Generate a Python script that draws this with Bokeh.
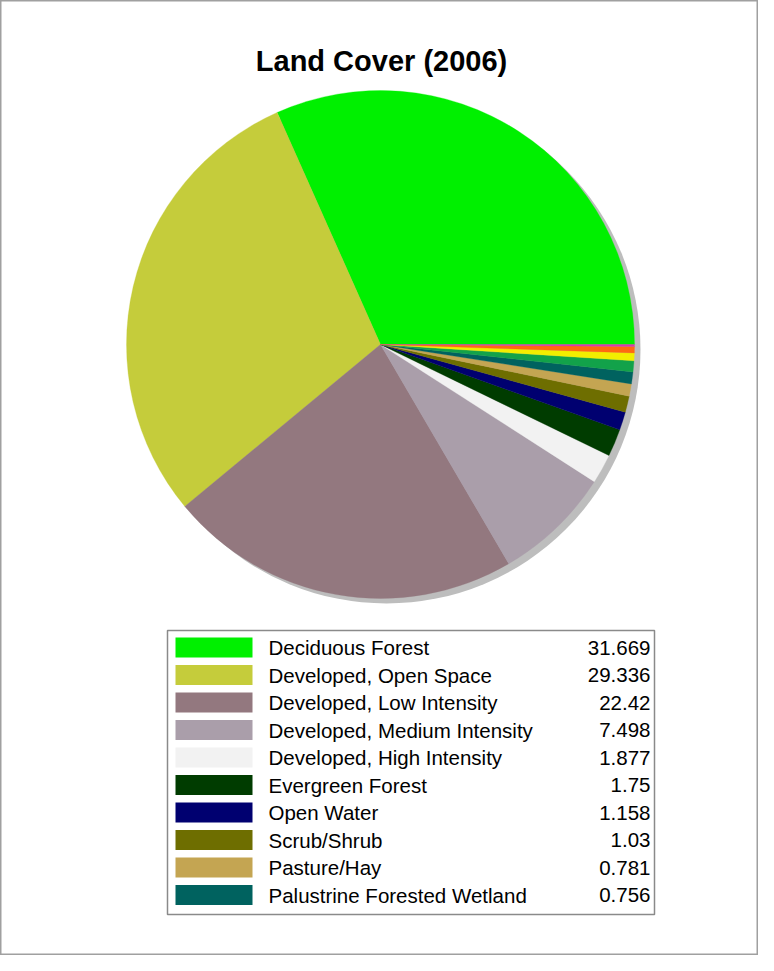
import numpy as np
from bokeh.plotting import figure
from bokeh.models import Range1d, ColumnDataSource
from bokeh.core.properties import value
from bokeh.embed import file_html
from bokeh.resources import INLINE

# ---- data ----
categories = ["Deciduous Forest", "Developed, Open Space", "Developed, Low  Intensity",
              "Developed, Medium Intensity", "Developed, High Intensity", "Evergreen Forest",
              "Open Water", "Scrub/Shrub", "Pasture/Hay", "Palustrine Forested Wetland"]
values = [31.669, 29.336, 22.42, 7.498, 1.877, 1.75, 1.158, 1.03, 0.781, 0.756]
value_labels = ["31.669", "29.336", "22.42", "7.498", "1.877", "1.75", "1.158", "1.03", "0.781", "0.756"]
colors = ["#00f000", "#c5cc3b", "#93787f", "#aa9eaa", "#f2f2f2", "#003c00",
          "#000070", "#6e6e00", "#c4a552", "#00625f"]
# small unlabeled slices (not in legend)
extra_values = [0.7, 0.5, 0.4, 0.125]
extra_colors = ["#12a24a", "#f2ee00", "#ff6a10", "#d83ab0"]

W, H = 758, 955
FONT = "'Liberation Sans', Arial, sans-serif"

p = figure(width=W, height=H, output_backend="svg", toolbar_location=None,
           x_range=Range1d(0, W), y_range=Range1d(0, H), min_border=0)
p.axis.visible = False
p.grid.visible = False
p.outline_line_color = "#a0a0a0"
p.outline_line_width = 2
p.background_fill_color = "white"
p.border_fill_color = "white"

# ---- pie ----
cx, cy, r = 380, 611, 254
all_vals = np.array(values + extra_values, dtype=float)
all_cols = colors + extra_colors
frac = all_vals / all_vals.sum()
ends = np.cumsum(frac) * 2 * np.pi
starts = np.concatenate([[0.0], ends[:-1]])

# shadow
p.circle(x=[cx + 6], y=[cy - 5], radius=r, fill_color="#bdbdbd", line_color=None)

src = ColumnDataSource(dict(start=starts, end=ends, color=all_cols))
p.wedge(x=cx, y=cy, radius=r, start_angle="start", end_angle="end",
        fill_color="color", line_color="color", line_width=0.3, source=src)

# ---- title ----
p.text(x=[381], y=[895], text=["Land Cover (2006)"], text_font=value(FONT),
       text_font_size="29px", text_font_style="bold", text_align="center",
       text_baseline="middle", text_color="black")

# ---- legend ----
p.quad(left=[167], right=[654], bottom=[41], top=[325], fill_color="white",
       line_color="#8a8a8a", line_width=1.5)
n = len(categories)
row_y = 308 - 27.5 * np.arange(n)
lsrc = ColumnDataSource(dict(y=row_y, color=colors, label=categories, val=value_labels))
p.rect(x=213.5, y="y", width=77, height=20, fill_color="color", line_color=None, source=lsrc)
p.text(x=268, y="y", text="label", text_font=value(FONT), text_font_size="20.5px",
       text_align="left", text_baseline="middle", text_color="black", source=lsrc)
p.text(x=650, y="y", text="val", text_font=value(FONT), text_font_size="20.5px",
       text_align="right", text_baseline="middle", text_color="black", source=lsrc)

open("out.html", "w").write(file_html(p, INLINE))
